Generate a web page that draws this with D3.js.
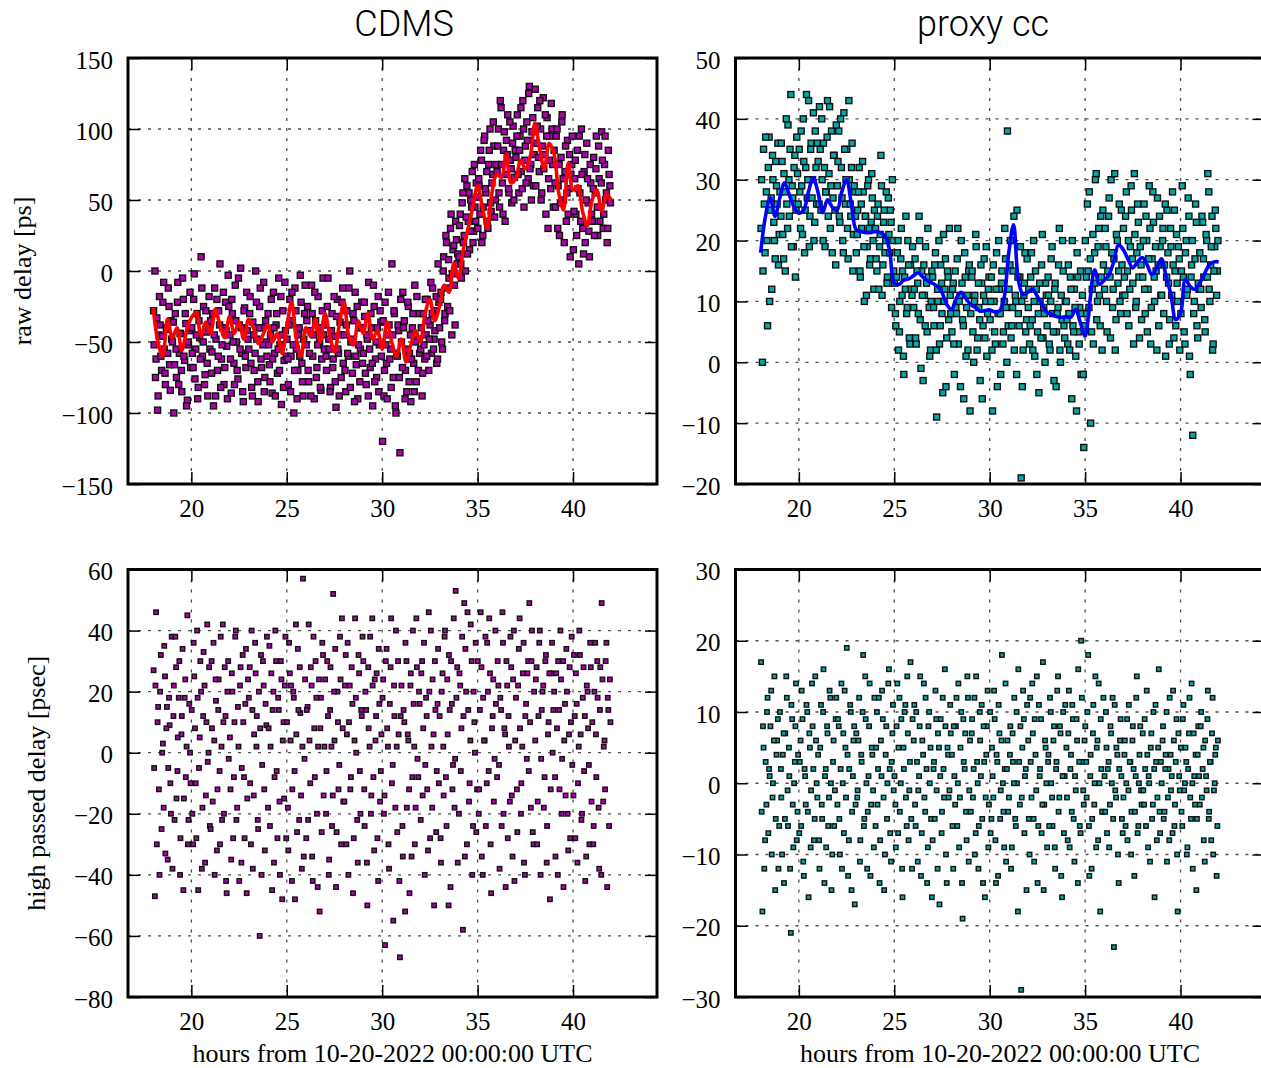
<!DOCTYPE html>
<html>
<head>
<meta charset="utf-8">
<script src="https://cdn.jsdelivr.net/npm/d3@7"></script>
<style>
body { margin: 0; background: #fff; }
svg text { font-family: "Liberation Serif", serif; fill: #000; }
</style>
</head>
<body>
<svg id="chart" width="1261" height="1068"></svg>
<script>
// sample times, hours from 10-20-2022 00:00 UTC (one row per hour)
const hours = [
  18.02,18.09,18.15,18.23,18.30,18.36,18.44,18.51,18.58,18.64,18.72,18.79,18.86,18.93, 18.05,18.12,18.19,18.26,18.33,18.40,18.47,18.55,18.62,18.69,18.76,18.83,18.90,18.97,
  19.01,19.08,19.16,19.22,19.29,19.37,19.43,19.50,19.58,19.65,19.71,19.79,19.85,19.93, 19.06,19.12,19.20,19.27,19.34,19.41,19.48,19.54,19.61,19.68,19.75,19.82,19.89,19.96,
  20.02,20.09,20.15,20.23,20.30,20.36,20.44,20.51,20.58,20.64,20.72,20.79,20.86,20.93, 20.05,20.12,20.19,20.26,20.33,20.40,20.47,20.55,20.62,20.69,20.76,20.83,20.90,20.97,
  21.01,21.08,21.16,21.22,21.29,21.37,21.43,21.50,21.58,21.65,21.71,21.79,21.85,21.93, 21.06,21.12,21.20,21.27,21.34,21.41,21.48,21.54,21.61,21.68,21.75,21.82,21.89,21.96,
  22.02,22.09,22.15,22.23,22.30,22.36,22.44,22.51,22.58,22.64,22.72,22.79,22.86,22.93, 22.05,22.12,22.19,22.26,22.33,22.40,22.47,22.55,22.62,22.69,22.76,22.83,22.90,22.97,
  23.01,23.08,23.16,23.22,23.29,23.37,23.43,23.50,23.58,23.65,23.71,23.79,23.85,23.93, 23.06,23.12,23.20,23.27,23.34,23.41,23.48,23.54,23.61,23.68,23.75,23.82,23.89,23.96,
  24.02,24.09,24.15,24.23,24.30,24.36,24.44,24.51,24.58,24.64,24.72,24.79,24.86,24.93, 24.05,24.12,24.19,24.26,24.33,24.40,24.47,24.55,24.62,24.69,24.76,24.83,24.90,24.97,
  25.01,25.08,25.16,25.22,25.29,25.37,25.43,25.50,25.58,25.65,25.71,25.79,25.85,25.93, 25.06,25.12,25.20,25.27,25.34,25.41,25.48,25.54,25.61,25.68,25.75,25.82,25.89,25.96,
  26.02,26.09,26.15,26.23,26.30,26.36,26.44,26.51,26.58,26.64,26.72,26.79,26.86,26.93, 26.05,26.12,26.19,26.26,26.33,26.40,26.47,26.55,26.62,26.69,26.76,26.83,26.90,26.97,
  27.01,27.08,27.16,27.22,27.29,27.37,27.43,27.50,27.58,27.65,27.71,27.79,27.85,27.93, 27.06,27.12,27.20,27.27,27.34,27.41,27.48,27.54,27.61,27.68,27.75,27.82,27.89,27.96,
  28.02,28.09,28.15,28.23,28.30,28.36,28.44,28.51,28.58,28.64,28.72,28.79,28.86,28.93, 28.05,28.12,28.19,28.26,28.33,28.40,28.47,28.55,28.62,28.69,28.76,28.83,28.90,28.97,
  29.01,29.08,29.16,29.22,29.29,29.37,29.43,29.50,29.58,29.65,29.71,29.79,29.85,29.93, 29.06,29.12,29.20,29.27,29.34,29.41,29.48,29.54,29.61,29.68,29.75,29.82,29.89,29.96,
  30.02,30.09,30.15,30.23,30.30,30.36,30.44,30.51,30.58,30.64,30.72,30.79,30.86,30.93, 30.05,30.12,30.19,30.26,30.33,30.40,30.47,30.55,30.62,30.69,30.76,30.83,30.90,30.97,
  31.01,31.08,31.16,31.22,31.29,31.37,31.43,31.50,31.58,31.65,31.71,31.79,31.85,31.93, 31.06,31.12,31.20,31.27,31.34,31.41,31.48,31.54,31.61,31.68,31.75,31.82,31.89,31.96,
  32.02,32.09,32.15,32.23,32.30,32.36,32.44,32.51,32.58,32.64,32.72,32.79,32.86,32.93, 32.05,32.12,32.19,32.26,32.33,32.40,32.47,32.55,32.62,32.69,32.76,32.83,32.90,32.97,
  33.01,33.08,33.16,33.22,33.29,33.37,33.43,33.50,33.58,33.65,33.71,33.79,33.85,33.93, 33.06,33.12,33.20,33.27,33.34,33.41,33.48,33.54,33.61,33.68,33.75,33.82,33.89,33.96,
  34.02,34.09,34.15,34.23,34.30,34.36,34.44,34.51,34.58,34.64,34.72,34.79,34.86,34.93, 34.05,34.12,34.19,34.26,34.33,34.40,34.47,34.55,34.62,34.69,34.76,34.83,34.90,34.97,
  35.01,35.08,35.16,35.22,35.29,35.37,35.43,35.50,35.58,35.65,35.71,35.79,35.85,35.93, 35.06,35.12,35.20,35.27,35.34,35.41,35.48,35.54,35.61,35.68,35.75,35.82,35.89,35.96,
  36.02,36.09,36.15,36.23,36.30,36.36,36.44,36.51,36.58,36.64,36.72,36.79,36.86,36.93, 36.05,36.12,36.19,36.26,36.33,36.40,36.47,36.55,36.62,36.69,36.76,36.83,36.90,36.97,
  37.01,37.08,37.16,37.22,37.29,37.37,37.43,37.50,37.58,37.65,37.71,37.79,37.85,37.93, 37.06,37.12,37.20,37.27,37.34,37.41,37.48,37.54,37.61,37.68,37.75,37.82,37.89,37.96,
  38.02,38.09,38.15,38.23,38.30,38.36,38.44,38.51,38.58,38.64,38.72,38.79,38.86,38.93, 38.05,38.12,38.19,38.26,38.33,38.40,38.47,38.55,38.62,38.69,38.76,38.83,38.90,38.97,
  39.01,39.08,39.16,39.22,39.29,39.37,39.43,39.50,39.58,39.65,39.71,39.79,39.85,39.93, 39.06,39.12,39.20,39.27,39.34,39.41,39.48,39.54,39.61,39.68,39.75,39.82,39.89,39.96,
  40.02,40.09,40.15,40.23,40.30,40.36,40.44,40.51,40.58,40.64,40.72,40.79,40.86,40.93, 40.05,40.12,40.19,40.26,40.33,40.40,40.47,40.55,40.62,40.69,40.76,40.83,40.90,40.97,
  41.01,41.08,41.16,41.22,41.29,41.37,41.43,41.50,41.58,41.65,41.71,41.79,41.85,41.93, 41.06,41.12,41.20,41.27,41.34,41.41,41.48,41.54,41.61,41.68,41.75,41.82,41.89,41.96
];

// CDMS raw delay [ps]
const cdmsRaw = [
  -28,0,-62,-98,-45,-38,-70,-22,-55,-80,-41,-12,-66,-35, -52,-75,-33,-88,-18,-60,-46,-8,-72,-40,-58,-25,-84,-48,
  -50,-100,-30,-75,-8,-58,-44,-85,-20,-63,-37,-91,-52,-15, -36,-66,-55,-22,-80,-44,-70,-5,-60,-30,-95,-50,-42,-68,
  -40,-68,-2,-55,-30,-82,-47,10,-60,-25,-73,-43,-88,-18, -58,-20,-76,-45,-90,-35,-62,-12,-50,-80,-28,-65,-40,-55,
  -35,-57,-95,-12,-48,-70,-28,5,-62,-40,-80,-22,-53,-3, -72,-30,-45,-88,-20,-60,-38,-82,-52,-15,-68,-42,-90,-25,
  -45,-86,-30,-65,-10,-50,-76,-38,2,-58,-92,-26,-68,-42, -62,-20,-50,-80,-35,-70,-5,-55,-40,-85,-28,-60,-15,-48,
  -55,-18,-82,-36,-70,0,-48,-92,-25,-62,-40,-8,-75,-50, -30,-65,-88,-45,-58,-22,-78,-40,-12,-68,-52,-85,-35,-60,
  -30,-66,-45,-86,-15,-58,-38,-72,-5,-52,-94,-28,-63,-42, -52,-78,-20,-62,-40,-88,-30,-55,-70,-18,-45,-82,-8,-60,
  -48,-80,-20,-60,-35,-100,-12,-55,-70,-40,-3,-65,-88,-30, -62,-38,-85,-15,-52,-70,-28,-90,-45,-60,-22,-78,-48,-10,
  -52,-25,-78,-42,-10,-60,-90,-35,-68,-18,-50,-84,-28,-45, -35,-70,-58,-88,-30,-45,-15,-75,-52,-40,-82,-62,-5,-55,
  -38,-70,-5,-55,-82,-30,-62,-46,-96,-20,-58,-36,-75,-12, -60,-25,-48,-85,-42,-68,-18,-78,-32,-55,-88,-45,-22,-65,
  -45,-85,-28,-60,0,-50,-72,-35,-15,-66,-90,-40,-55,-22, -70,-38,-58,-12,-82,-48,-30,-92,-60,-25,-52,-78,-40,-65,
  -58,-32,-80,-48,-8,-68,-40,-95,-25,-62,-75,-18,-52,-36, -22,-72,-45,-88,-55,-30,-65,-10,-78,-50,-40,-85,-28,-60,
  -120,-88,-22,-65,-45,-38,-55,5,-75,-30,-100,-60,-42,-128, -35,-70,-52,-90,-15,-62,-82,-45,-28,-95,-58,-38,-75,-20,
  -50,-15,-35,-70,-85,-25,-58,-92,-40,-65,-10,-78,-48,-30, -68,-40,-90,-55,-22,-78,-45,-62,-30,-85,-50,-18,-70,-58,
  -55,-88,-30,-62,-45,-20,-70,-38,-58,-12,-48,-28,-65,5, -40,-72,-52,-20,-60,-35,-48,-8,-30,-55,-42,-18,-62,-22,
  -40,-15,-55,10,-30,20,-25,-5,30,-45,15,-10,35,5, -20,-50,0,-35,25,-12,8,-28,40,-2,18,-38,22,12,
  10,40,-5,55,25,0,60,35,15,50,70,28,45,62, 32,5,48,20,65,38,12,55,28,45,20,75,35,52,
  30,60,85,20,45,95,55,35,75,100,42,68,88,50, 65,40,78,25,92,58,70,30,85,48,62,105,38,75,
  70,100,45,115,62,85,35,92,110,55,78,48,102,66, 88,55,120,75,40,98,68,82,58,105,72,90,50,85,
  80,110,55,95,70,120,45,88,105,65,130,75,98,60, 95,68,85,115,58,100,78,62,92,125,72,50,108,82,
  128,90,115,70,100,55,122,82,40,108,65,95,118,75, 60,102,80,120,50,88,72,110,95,30,78,58,100,45,
  85,45,100,60,25,80,110,50,70,35,92,58,10,75, 62,95,30,75,48,105,65,20,88,55,40,82,68,95,
  15,65,40,85,5,55,100,30,70,20,90,48,10,62, 42,78,25,58,95,35,68,12,82,50,65,28,75,40,
  35,80,55,95,25,65,45,98,30,75,50,20,85,60, 58,25,72,45,88,35,62,78,40,95,55,30,68,48
];

// CDMS high passed delay [psec]
const cdmsHp = [
  27,-47,46,10,-12,20,-25,3,35,-33,15,-5,9,-20, -5,22,-30,15,-40,32,0,-18,25,8,-35,18,-10,38,
  -38,22,38,-15,5,30,-28,12,-45,18,-8,45,-22,0, 12,-22,28,-6,18,-40,6,34,-15,24,2,-30,16,-10,
  14,-30,25,-10,40,-45,5,20,-18,33,-36,10,-3,28, -20,36,8,-28,18,-5,30,-38,12,22,-14,42,0,-24,
  -25,8,36,-40,17,-12,24,-30,2,42,-20,12,-46,30, 30,-16,4,24,-32,14,-6,38,-22,10,28,-42,20,-2,
  5,-35,20,-8,38,-22,15,-42,28,-5,10,-28,34,-15, -12,26,-28,10,40,-18,2,22,-36,32,-8,16,-46,24,
  18,-10,40,-38,6,26,12,-25,-60,32,-4,22,-32,9, 28,-30,14,-14,36,2,-22,20,8,-40,30,-12,16,38,
  -18,35,2,-45,20,-8,30,-28,14,-40,24,4,-15,38, 8,-24,26,14,-36,40,-6,18,-16,30,-48,10,22,-28,
  10,-32,26,22,-12,18,-48,6,34,-22,13,-38,57,-2, -18,36,4,-42,20,-6,42,-26,14,28,-14,2,-34,24,
  -28,15,42,-10,22,-42,8,30,-20,2,-52,18,36,-14, 14,-22,4,28,-34,38,-8,18,-44,24,8,-26,32,2,
  24,-6,12,-35,28,-24,52,4,-44,20,-12,38,-30,8, -20,30,-40,14,2,-14,20,34,-26,10,-4,24,44,-16,
  -16,32,6,-40,22,-8,16,-28,44,0,-36,26,-20,12, 22,-30,36,10,-12,28,-46,4,18,-22,32,-6,14,38,
  30,-24,14,-50,8,38,-14,22,-32,4,26,-42,16,-6, -12,20,-36,28,2,-20,44,-8,24,12,-28,34,-16,6,
  18,-20,-63,34,2,-38,28,-10,-55,12,40,-26,6,-67, 24,-14,30,8,-30,16,44,-4,22,-18,2,30,-42,12,
  22,-34,10,36,-18,4,-46,26,-8,16,-30,44,-2,20, -24,14,-52,30,6,-12,22,-34,40,2,-18,28,-8,16,
  -22,30,8,-40,18,-12,46,-28,2,24,-50,14,-6,34, 26,-14,36,-4,12,-32,20,40,-18,6,30,-26,16,-10,
  12,-36,26,-14,40,-24,6,32,-44,16,-4,-18,53,28, -28,20,2,38,-8,24,-50,14,30,-12,44,-2,18,-36,
  -20,22,8,-58,49,34,-30,14,-10,42,-40,20,0,-26, 26,-6,38,12,-34,20,46,-16,4,30,-24,10,36,-12,
  30,-12,46,-34,18,4,-24,36,-6,26,-46,12,-16,40, -20,14,28,-40,4,38,-10,20,44,-30,8,24,-2,16,
  -8,22,-38,14,46,-20,6,30,-28,2,38,-14,24,-42, 30,-4,18,-24,36,8,-44,22,12,-16,28,-34,40,4,
  18,-26,34,8,-10,26,-36,12,-2,30,49,-18,40,-30, -12,22,44,-20,2,36,-40,16,26,-6,10,30,-26,20,
  4,28,-16,36,-40,14,22,-8,32,-24,10,-48,26,0, 24,-30,12,40,-2,20,-18,30,-36,6,26,-12,36,14,
  20,-34,8,30,-12,24,-2,-44,16,34,-20,6,-28,38, -8,26,-40,14,40,-20,30,4,-14,20,-32,28,10,-4,
  -14,12,26,-36,2,32,-22,18,-6,-42,22,8,-30,28, 32,-28,16,-10,40,6,-20,28,12,-34,20,-4,36,-16,
  10,-24,36,-8,18,-38,28,49,-16,4,30,-44,14,24, -30,20,6,30,-18,14,-40,24,2,-12,36,18,-24,10
];

// proxy cc raw delay
const proxyRaw = [
  22,0,35,18,28,6,37,25,12,30,20,33,26,16, 30,15,26,37,20,32,10,27,34,23,17,29,36,21,
  28,36,21,31,15,26,39,24,44,29,19,34,25,31, 24,33,17,28,40,22,30,35,19,27,32,14,37,26,
  35,22,29,40,18,32,27,43,24,36,30,20,38,26, 28,38,21,33,25,44,30,19,35,27,41,23,32,36,
  33,42,25,30,36,19,28,43,31,22,38,27,34,16, 26,35,40,20,32,28,37,24,42,29,18,34,25,39,
  29,38,23,32,20,41,26,35,17,30,24,36,21,28, 33,24,40,27,18,35,30,22,43,26,32,15,29,24,
  18,25,32,14,22,28,10,24,19,30,16,23,27,12, 21,28,15,26,33,19,24,11,29,22,17,31,20,25,
  22,15,26,19,34,11,23,18,28,14,21,25,9,20, 17,24,12,21,29,16,25,20,13,27,18,23,30,15,
  13,6,18,2,10,22,15,-2,12,8,20,4,16,11, 8,14,20,5,17,11,1,14,24,9,16,3,12,19,
  9,17,3,13,24,7,15,-3,11,19,5,14,1,10, 12,4,15,8,20,-1,11,16,6,13,22,9,2,15,
  14,6,18,-9,10,3,16,8,21,12,-4,15,7,11, 9,16,2,12,20,6,13,-5,10,17,4,14,22,8,
  5,13,-2,9,17,3,11,20,7,-6,14,9,2,16, 12,3,15,8,22,10,-4,13,6,18,1,11,15,-8,
  8,15,0,11,19,4,9,-3,13,6,17,10,1,12, 14,5,10,21,2,13,7,16,-6,11,4,19,8,14,
  7,14,-8,10,3,18,8,12,-2,15,5,22,9,38, 10,2,16,5,12,-4,20,8,13,3,10,17,0,6,
  12,20,6,15,2,10,25,8,14,-19,-4,11,18,7, 16,4,9,24,11,-2,14,6,19,10,2,13,5,17,
  9,3,14,7,20,1,12,5,-5,10,16,4,8,13, 12,6,18,2,10,15,-2,8,13,4,21,9,0,11,
  6,11,2,17,8,-3,13,5,9,22,0,7,15,4, 14,3,10,19,5,12,-4,8,16,2,11,20,6,10,
  10,3,8,14,-6,6,12,1,18,5,9,-2,11,-14, 7,16,2,12,20,5,9,-8,14,3,15,8,-2,6,
  20,8,15,28,-10,12,3,18,31,10,22,6,14,25, 14,26,9,17,5,21,13,30,7,19,11,24,2,16,
  12,19,5,24,14,30,9,17,2,21,13,26,8,16, 22,10,15,27,4,18,12,31,7,20,15,10,25,11,
  22,11,28,15,6,19,25,13,31,9,18,23,4,16, 14,24,8,20,12,29,17,3,21,10,26,14,19,7,
  14,26,8,20,12,29,3,17,23,10,15,27,6,19, 20,12,24,5,17,22,9,28,14,19,2,16,24,11,
  11,22,16,1,25,13,7,19,28,4,15,21,10,17, 20,8,26,14,18,3,22,11,16,25,6,13,19,2,
  8,29,14,3,20,12,24,-2,16,-12,10,26,6,13, 15,22,5,18,11,27,1,14,20,8,17,23,4,12,
  18,9,23,14,5,20,31,12,16,24,3,19,22,15, 12,24,17,7,21,14,28,10,19,2,15,25,11,20
];

// proxy cc high passed delay
const proxyHp = [
  17,-18,5,-8,-3,12,2,8,-10,0,15,-5,6,-12, -4,8,-12,3,10,-7,1,13,-2,6,-15,4,9,-6,
  10,-2,4,-14,7,12,-6,1,-21,9,-9,3,14,-4, 2,-10,7,-5,15,-1,5,-12,11,-3,0,8,-8,4,
  -7,6,13,-11,2,-3,10,-16,5,-1,8,-8,15,0, 3,-6,9,-13,1,11,-4,7,-9,14,2,-5,6,-2,
  4,-12,11,-5,16,1,-9,7,-2,12,-15,3,-6,9, -8,5,-3,10,-14,2,8,-6,13,0,-10,6,-1,12,
  -3,8,-10,14,0,-7,5,19,-13,2,10,-4,6,-17, 9,-5,2,-12,7,13,-2,4,-8,11,-15,1,8,-3,
  7,-1,12,-8,3,18,-5,9,-12,1,14,-3,4,-9, -2,6,-11,4,10,-6,15,0,-4,8,-13,5,-1,12,
  -6,10,2,-14,6,13,-2,-10,8,0,16,-7,3,11, 5,-3,12,-8,1,9,-15,4,-5,14,2,-11,7,-1,
  1,-9,14,5,-4,9,-16,2,11,-6,7,-1,17,-12, -3,8,-7,12,0,-12,5,10,-2,15,-8,3,-5,9,
  6,-3,10,-11,1,15,-7,4,-2,12,-14,8,0,-5, 11,-6,3,-1,8,-13,6,14,-4,2,-9,10,5,-16,
  -8,3,13,-1,7,-17,9,-4,2,16,-10,5,-2,11, 2,-5,9,-12,5,1,-7,12,-2,8,-14,4,-1,7,
  4,-12,1,8,-6,14,-2,10,-19,3,7,-8,12,-1, -6,8,-3,12,0,-9,5,-14,9,2,-4,15,-11,6,
  -4,9,2,-10,15,0,-6,6,11,-14,3,-2,8,-9, 7,-2,12,-7,3,-12,10,1,-5,8,-16,4,13,-3,
  10,-5,1,13,-8,4,-13,7,-1,18,-4,2,-11,6, -7,5,-2,9,-14,3,11,-5,6,0,-9,14,2,-4,
  -2,8,-9,3,12,-6,0,16,-3,-29,5,9,1,-15, 4,-12,7,0,-5,10,-18,3,8,-2,13,-7,2,11,
  6,-10,3,14,-5,9,-1,-14,11,2,-7,17,-3,5, -5,12,-2,7,-11,4,15,-6,1,9,-3,-15,6,0,
  -9,4,12,0,-6,8,-12,3,15,-2,7,-16,10,1, 3,-6,10,-2,6,-9,2,13,-4,8,-13,1,-7,11,
  5,-8,13,2,-4,9,-11,-1,6,16,-6,20,3,-3, -2,7,-9,4,11,-5,1,9,-14,3,-7,12,-1,6,
  8,-2,18,-13,4,-5,11,0,-9,6,14,-18,2,-4, 3,10,-6,1,-12,7,-3,15,5,-8,0,9,-4,12,
  1,10,-7,3,-3,7,12,-23,-1,5,-10,2,9,-5, -4,5,2,-9,8,0,-5,11,-2,4,-14,6,1,-7,
  -2,6,0,-8,11,3,-4,8,-13,1,15,-6,4,-1, 4,-6,9,-1,3,-10,6,2,-4,12,-7,0,8,-3,
  7,-3,2,13,-9,0,5,-5,10,-16,3,-2,16,-7, -1,9,-6,4,1,-11,7,-3,2,11,-8,5,-4,3,
  0,8,-4,4,-11,2,12,-1,-7,6,-3,9,-18,1, 6,-5,2,10,-2,-8,4,1,13,-6,3,-10,7,-1,
  5,-6,11,0,3,-9,7,-2,14,-12,1,4,-5,8, -4,9,-1,5,-10,2,12,-5,0,7,-3,-15,4,1,
  -3,10,2,-8,6,-1,13,-4,3,7,-10,0,5,-6, 8,-2,5,-11,1,9,-5,3,-8,12,-1,4,-13,6
];

// running averages
const smoothHours = [
  18,18.25,18.5,18.75, 19,19.25,19.5,19.75, 20,20.25,20.5,20.75, 21,21.25,21.5,21.75,
  22,22.25,22.5,22.75, 23,23.25,23.5,23.75, 24,24.25,24.5,24.75, 25,25.25,25.5,25.75,
  26,26.25,26.5,26.75, 27,27.25,27.5,27.75, 28,28.25,28.5,28.75, 29,29.25,29.5,29.75,
  30,30.25,30.5,30.75, 31,31.25,31.5,31.75, 32,32.25,32.5,32.75, 33,33.25,33.5,33.75,
  34,34.25,34.5,34.75, 35,35.25,35.5,35.75, 36,36.25,36.5,36.75, 37,37.25,37.5,37.75,
  38,38.25,38.5,38.75, 39,39.25,39.5,39.75, 40,40.25,40.5,40.75, 41,41.25,41.5,41.75, 42
];
const cdmsSmooth = [
  -26,-50,-60,-34, -47,-40,-56,-42, -33,-29,-46,-36, -44,-27,-38,-47,
  -32,-44,-36,-48, -34,-40,-51,-45, -38,-50,-44,-58, -40,-22,-48,-60,
  -40,-46,-34,-50, -30,-45,-57,-38, -22,-46,-52,-35, -44,-30,-48,-42,
  -55,-36,-50,-60, -48,-64,-52,-42, -50,-30,-20,-35, -25,-10,-15,5,
  -5,15,30,45, 60,45,30,55, 68,66,82,62, 65,78,72,80,
  104,86,72,90, 83,55,43,76, 57,60,42,32, 50,57,42,54, 50
];
const proxySmooth = [
  18,24,27,24, 27,29.5,27.5,25.5, 24.5,25,28,30.3, 28,24.6,26.7,25.5,
  25,28,30,26, 21.8,21.5,21.3,21.3, 21.5,21.3,20.8,18.5, 13,12.8,13.5,13.7,
  14.2,14.7,14,13.4, 13,12.5,11.5,9.5, 8.7,10.5,11.5,10.5, 9.5,9,8.4,8.5,
  8.6,8.3,8.4,10.5, 18,22.6,13.6,11.1, 11.5,12,10.8,9.5, 8.2,7.9,7.5,7.4,
  7.5,7.4,8.7,6.5, 4.3,10,15.2,12.8, 13.5,14.4,16.5,19.3, 18.5,16.9,15.5,16.5,
  17.2,16,14.4,15.5, 17,14,11.1,7, 8,13.6,12.5,12, 13,14.5,16,16.5, 16.5
];

const xTicks = [20, 25, 30, 35, 40];
const cdmsRawTicks = [-150, -100, -50, 0, 50, 100, 150];
const proxyRawTicks = [-20, -10, 0, 10, 20, 30, 40, 50];
const cdmsHpTicks = [-80, -60, -40, -20, 0, 20, 40, 60];
const proxyHpTicks = [-30, -20, -10, 0, 10, 20, 30];

const svg = d3.select("#chart");
svg.append("rect").attr("width", 1261).attr("height", 1068).attr("fill", "#fff");

const W = 529;
const magenta = "#b000b0", cyan = "#00a9a9";
const serif = "Liberation Serif";

const panels = [
  { left: 128, top: 58, h: 426, vals: cdmsRaw, ticks: cdmsRawTicks, fill: magenta, size: 6,
    line: cdmsSmooth, lineColor: "#ff0000", ylabel: "raw delay [ps]", ylabelX: 31 },
  { left: 735.5, top: 58, h: 426, vals: proxyRaw, ticks: proxyRawTicks, fill: cyan, size: 6,
    line: proxySmooth, lineColor: "#0000ff" },
  { left: 128, top: 569.5, h: 427.5, vals: cdmsHp, ticks: cdmsHpTicks, fill: magenta, size: 4.4,
    ylabel: "high passed delay [psec]", ylabelX: 45, xlabel: true },
  { left: 735.5, top: 569.5, h: 427.5, vals: proxyHp, ticks: proxyHpTicks, fill: cyan, size: 4.4,
    xlabel: true }
];

panels.forEach((p, i) => {
  const g = svg.append("g").attr("transform", `translate(${p.left},${p.top})`);
  const x = d3.scaleLinear().domain([16.68, 44.4]).range([0, W]);
  const y = d3.scaleLinear().domain(d3.extent(p.ticks)).range([p.h, 0]);

  g.append("clipPath").attr("id", "clip" + i)
    .append("rect").attr("width", W).attr("height", p.h);

  // dotted grid
  const grid = g.append("g").attr("stroke", "#4d4d4d").attr("stroke-width", 1.3)
    .attr("stroke-dasharray", "3,7");
  grid.selectAll(".gx").data(xTicks).enter().append("line")
    .attr("x1", d => x(d)).attr("x2", d => x(d)).attr("y1", 0).attr("y2", p.h);
  grid.selectAll(".gy").data(p.ticks).enter().append("line")
    .attr("x1", 0).attr("x2", W).attr("y1", d => y(d)).attr("y2", d => y(d));

  const plot = g.append("g").attr("clip-path", `url(#clip${i})`);
  plot.selectAll("rect.pt").data(hours).enter().append("rect")
    .attr("class", "pt")
    .attr("x", d => x(d) - p.size / 2)
    .attr("y", (d, k) => y(p.vals[k]) - p.size / 2)
    .attr("width", p.size).attr("height", p.size)
    .attr("fill", p.fill).attr("stroke", "#111").attr("stroke-width", 1.4);

  if (p.line) {
    const line = d3.line()
      .x((d, k) => x(smoothHours[k]))
      .y(d => y(d))
      .curve(d3.curveCatmullRom.alpha(0.5));
    plot.append("path").datum(p.line).attr("d", line)
      .attr("fill", "none").attr("stroke", p.lineColor).attr("stroke-width", 3.6)
      .attr("stroke-linejoin", "round");
  }

  // inward ticks on all four sides
  const styleAxis = a => {
    a.attr("font-family", serif).attr("font-size", 25);
    a.select(".domain").remove();
    a.selectAll(".tick line").attr("stroke", "#000").attr("stroke-width", 1.5);
    a.selectAll("text").style("font-size", "25px").style("font-family", serif);
  };
  g.append("g").attr("transform", `translate(0,${p.h})`)
    .call(d3.axisBottom(x).tickValues(xTicks).tickSizeInner(-12).tickSizeOuter(0).tickPadding(15))
    .call(styleAxis);
  g.append("g")
    .call(d3.axisTop(x).tickValues(xTicks).tickSizeInner(-12).tickSizeOuter(0).tickFormat(""))
    .call(styleAxis);
  g.append("g")
    .call(d3.axisLeft(y).tickValues(p.ticks).tickSizeInner(-12).tickSizeOuter(0).tickPadding(15)
      .tickFormat(d3.format("d")))
    .call(styleAxis)
    .selectAll("text").attr("dy", "0.4em");
  g.append("g").attr("transform", `translate(${W},0)`)
    .call(d3.axisRight(y).tickValues(p.ticks).tickSizeInner(-12).tickSizeOuter(0).tickFormat(""))
    .call(styleAxis);

  // frame
  g.append("rect").attr("width", W).attr("height", p.h)
    .attr("fill", "none").attr("stroke", "#000").attr("stroke-width", 3);

  if (p.ylabel) {
    svg.append("text")
      .attr("transform", `translate(${p.ylabelX},${p.top + p.h / 2}) rotate(-90)`)
      .attr("text-anchor", "middle").style("font-size", "26px")
      .text(p.ylabel);
  }
  if (p.xlabel) {
    svg.append("text")
      .attr("x", p.left + W / 2).attr("y", 1062)
      .attr("text-anchor", "middle").style("font-size", "26px")
      .text("hours from 10-20-2022 00:00:00 UTC");
  }
});

// titles
svg.append("text").attr("x", 404).attr("y", 36).attr("text-anchor", "middle")
  .style("font-family", "Roboto, 'Liberation Sans', sans-serif").style("font-weight", 300)
  .style("font-size", "36px").text("CDMS");
svg.append("text").attr("x", 983).attr("y", 36).attr("text-anchor", "middle")
  .style("font-family", "Roboto, 'Liberation Sans', sans-serif").style("font-weight", 300)
  .style("font-size", "36px").text("proxy cc");
</script>
</body>
</html>
